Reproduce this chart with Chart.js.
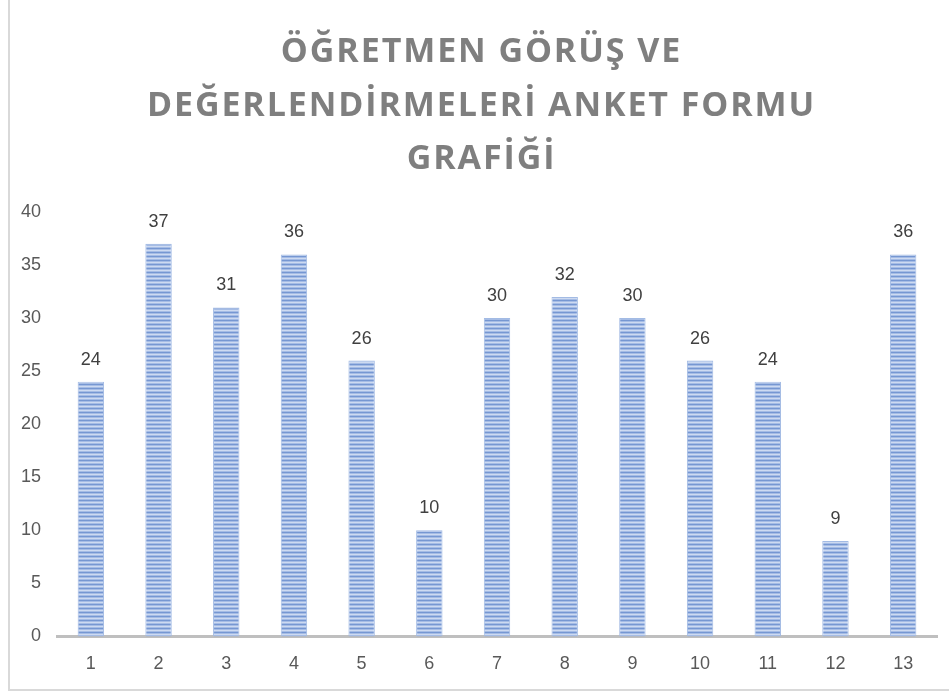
<!DOCTYPE html>
<html>
<head>
<meta charset="utf-8">
<script src="https://cdn.jsdelivr.net/npm/chart.js@4"></script>
<style>
	html, body { margin: 0; padding: 0; background: #fff; }
	#frame { position: absolute; left: 8px; top: -2px; width: 943px; height: 693px; border: 2px solid #d9d9d9; box-sizing: border-box; }
	#chart { position: absolute; left: 0; top: 0; }
	#title { position: absolute; left: 0; top: 23px; width: 949px; padding-left: 14px; box-sizing: border-box; text-align: center;
		font-family: "Open Sans", sans-serif; font-weight: bold; font-size: 34px; line-height: 53.5px; letter-spacing: 1.9px; color: #7f7f7f; }
</style>
</head>
<body>
<div id="frame"></div>
<canvas id="chart" width="949" height="691"></canvas>
<div id="title"></div>
<script>
const categories = ['1', '2', '3', '4', '5', '6', '7', '8', '9', '10', '11', '12', '13'];
const values = [24, 37, 31, 36, 26, 10, 30, 32, 30, 26, 24, 9, 36];
const titleLines = ['ÖĞRETMEN GÖRÜŞ VE', 'DEĞERLENDİRMELERİ ANKET FORMU', 'GRAFİĞİ'];

document.getElementById('title').innerHTML = titleLines.join('<br>');

// striped blue fill like the original
function makeStripes() {
	const c = document.createElement('canvas');
	c.width = 4; c.height = 4;
	const g = c.getContext('2d');
	g.fillStyle = '#a5bce5';
	g.fillRect(0, 0, 4, 4);
	g.fillStyle = '#7697d2';
	g.fillRect(0, 0, 4, 1);
	g.fillStyle = '#cddaf1';
	g.fillRect(0, 2, 4, 1);
	return g.createPattern(c, 'repeat');
}

// value labels on top of bars
const valueLabels = {
	id: 'valueLabels',
	afterDatasetsDraw(chart) {
		const ctx = chart.ctx;
		const meta = chart.getDatasetMeta(0);
		ctx.save();
		ctx.font = '18px "Liberation Sans", sans-serif';
		ctx.fillStyle = '#404040';
		ctx.textAlign = 'center';
		ctx.textBaseline = 'middle';
		meta.data.forEach((bar, i) => {
			ctx.fillText(values[i], bar.x, bar.y - 22);
		});
		ctx.restore();
	}
};

new Chart(document.getElementById('chart'), {
	type: 'bar',
	data: {
		labels: categories,
		datasets: [{
			data: values,
			backgroundColor: makeStripes(),
			borderColor: '#a3bbe4',
			borderWidth: 1,
			categoryPercentage: 1,
			barPercentage: 0.39
		}]
	},
	options: {
		responsive: false,
		animation: false,
		layout: { padding: { left: 13, right: 12, top: 212, bottom: 7 } },
		plugins: {
			legend: { display: false },
			tooltip: { enabled: false }
		},
		scales: {
			x: {
				grid: { display: false },
				border: { color: '#bfbfbf', width: 3 },
				ticks: { color: '#595959', font: { size: 18, family: '"Liberation Sans", sans-serif' }, padding: 9 }
			},
			y: {
				min: 0,
				max: 40,
				grid: { display: false },
				border: { display: false },
				ticks: { stepSize: 5, color: '#595959', font: { size: 18, family: '"Liberation Sans", sans-serif' }, padding: 8 }
			}
		}
	},
	plugins: [valueLabels]
});
</script>
</body>
</html>
